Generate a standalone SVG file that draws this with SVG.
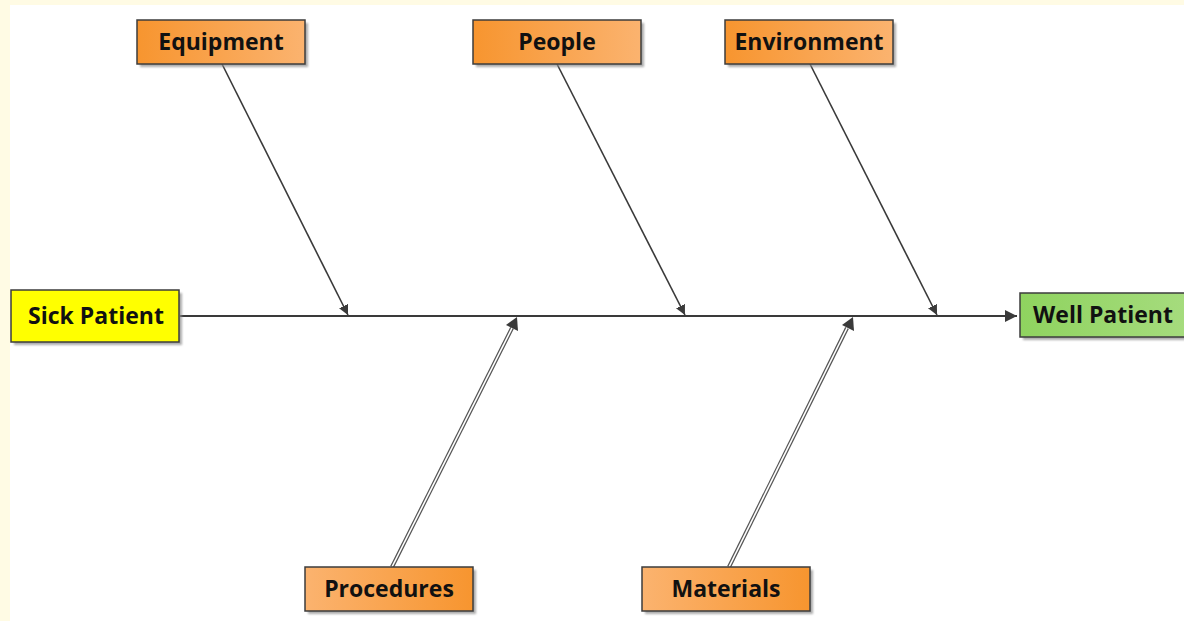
<svg xmlns="http://www.w3.org/2000/svg" width="1184" height="621" viewBox="0 0 1184 621">
  <defs>
    <linearGradient id="orangeDown" x1="0" y1="0" x2="1" y2="0">
      <stop offset="0" stop-color="#f7952f"/>
      <stop offset="1" stop-color="#fbb36f"/>
    </linearGradient>
    <linearGradient id="orangeUp" x1="0" y1="0" x2="1" y2="0">
      <stop offset="0" stop-color="#fbb36f"/>
      <stop offset="1" stop-color="#f7952f"/>
    </linearGradient>
    <linearGradient id="green" x1="0" y1="0" x2="1" y2="0">
      <stop offset="0" stop-color="#8fd35f"/>
      <stop offset="1" stop-color="#a6dc7e"/>
    </linearGradient>
    <filter id="shadow" x="-10%" y="-20%" width="130%" height="160%">
      <feGaussianBlur stdDeviation="1.2"/>
    </filter>
    <marker id="head" viewBox="0 0 10 10" refX="10" refY="5" markerWidth="10" markerHeight="10" markerUnits="userSpaceOnUse" orient="auto">
      <path d="M0,0 L10,5 L0,10 Z" fill="#3a3a3a"/>
    </marker>
    <marker id="headBig" viewBox="0 0 10 10" refX="10" refY="5" markerWidth="12" markerHeight="12" markerUnits="userSpaceOnUse" orient="auto">
      <path d="M0,0 L10,5 L0,10 Z" fill="#3a3a3a"/>
    </marker>
  </defs>
  <style>
    .box { stroke: #3c3c3c; stroke-width: 1.5; }
    .shade { fill: #8a8a8a; opacity: 0.7; filter: url(#shadow); }
    .label { font-family: "Open Sans", "Liberation Sans", sans-serif; font-weight: 700; font-size: 23px; fill: #111; text-anchor: middle; dominant-baseline: central; }
    .bone { stroke: #3a3a3a; stroke-width: 1.6; fill: none; }
    .spine { stroke: #3a3a3a; stroke-width: 2; fill: none; }
    .hollow { stroke: #555; stroke-width: 4; fill: none; }
    .hollowCore { stroke: #fff; stroke-width: 1.6; fill: none; }
  </style>

  <!-- page frame -->
  <rect x="0" y="0" width="1184" height="621" fill="#fffbe4"/>
  <rect x="10" y="5" width="1174" height="616" fill="#ffffff"/>

  <!-- connectors -->
  <g id="connectors">
    <line class="spine" x1="180" y1="316" x2="1017" y2="316" marker-end="url(#headBig)"/>
    <line class="bone" x1="222" y1="64" x2="348" y2="315" marker-end="url(#head)"/>
    <line class="bone" x1="557" y1="64" x2="685" y2="315" marker-end="url(#head)"/>
    <line class="bone" x1="810" y1="64" x2="937" y2="315" marker-end="url(#head)"/>
    <!-- double-lined bones from below -->
    <line class="hollow" x1="392" y1="567" x2="512" y2="328"/>
    <line class="hollowCore" x1="392" y1="567" x2="512" y2="328"/>
    <line class="hollow" x1="729" y1="567" x2="847" y2="328"/>
    <line class="hollowCore" x1="729" y1="567" x2="847" y2="328"/>
    <path d="M517,317 L518,331 L506,325 Z" fill="#3a3a3a"/>
    <path d="M853,317 L854,331 L842,325 Z" fill="#3a3a3a"/>
  </g>

  <g id="sick-patient">
    <rect class="shade" x="14" y="293" width="168" height="52"/>
    <rect class="box" x="11" y="290" width="168" height="52" fill="#ffff00"/>
    <text class="label" x="96" y="315">Sick Patient</text>
  </g>

  <g id="well-patient">
    <rect class="shade" x="1023" y="296" width="170" height="44"/>
    <rect class="box" x="1020" y="293" width="170" height="44" fill="url(#green)"/>
    <text class="label" x="1103" y="314">Well Patient</text>
  </g>

  <g id="equipment">
    <rect class="shade" x="140" y="23" width="168" height="44"/>
    <rect class="box" x="137" y="20" width="168" height="44" fill="url(#orangeDown)"/>
    <text class="label" x="221" y="41">Equipment</text>
  </g>

  <g id="people">
    <rect class="shade" x="476" y="23" width="168" height="44"/>
    <rect class="box" x="473" y="20" width="168" height="44" fill="url(#orangeDown)"/>
    <text class="label" x="557" y="41">People</text>
  </g>

  <g id="environment">
    <rect class="shade" x="728" y="23" width="168" height="44"/>
    <rect class="box" x="725" y="20" width="168" height="44" fill="url(#orangeDown)"/>
    <text class="label" x="809" y="41">Environment</text>
  </g>

  <g id="procedures">
    <rect class="shade" x="308" y="570" width="168" height="44"/>
    <rect class="box" x="305" y="567" width="168" height="44" fill="url(#orangeUp)"/>
    <text class="label" x="389" y="588">Procedures</text>
  </g>

  <g id="materials">
    <rect class="shade" x="645" y="570" width="168" height="44"/>
    <rect class="box" x="642" y="567" width="168" height="44" fill="url(#orangeUp)"/>
    <text class="label" x="726" y="588">Materials</text>
  </g>
</svg>
